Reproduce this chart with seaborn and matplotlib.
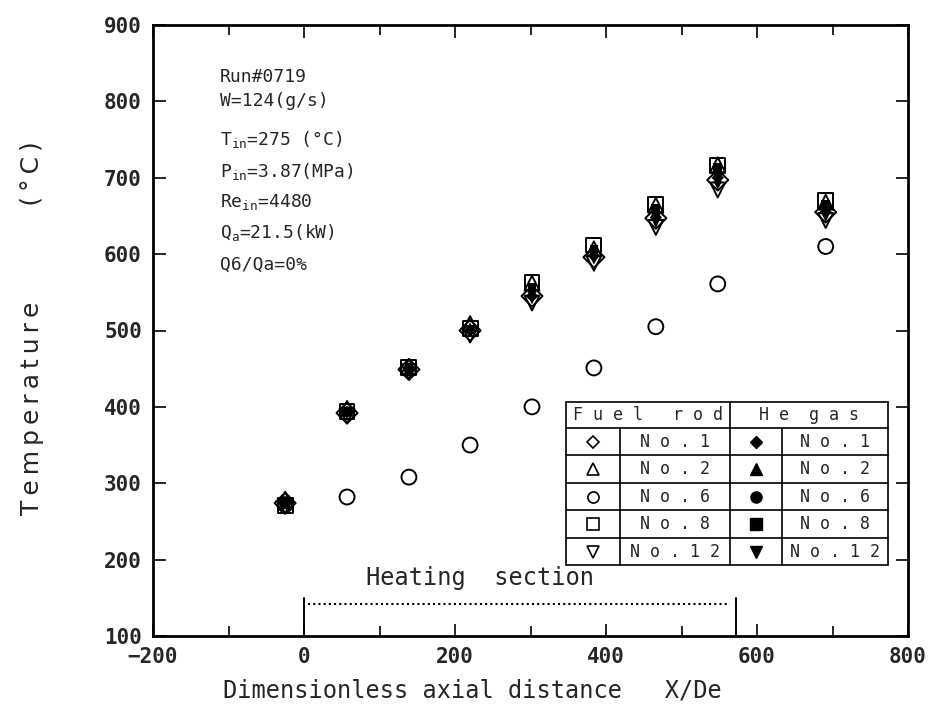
import numpy as np
import pandas as pd
import matplotlib
matplotlib.use("Agg")
import matplotlib.pyplot as plt
import seaborn as sns
from matplotlib.ticker import MultipleLocator
from matplotlib.patches import Rectangle

# ---------------- data ----------------
x_pos = [-25, 57, 139, 220, 302, 384, 466, 548, 691]
rods = ["No.1", "No.2", "No.6", "No.8", "No.12"]

fuel_no1 = [274, 392, 449, 500, 545, 596, 647, 697, 655]
fuel_no2 = [279, 398, 453, 509, 562, 607, 664, 717, 668]
fuel_no6 = [272, 282, 308, 350, 400, 451, 505, 561, 610]
fuel_no8 = [271, 394, 452, 503, 563, 612, 665, 716, 670]
fuel_no12 = [270, 388, 446, 494, 536, 588, 635, 684, 644]

gas_no1 = [274, 393, 450, 500, 545, 598, 648, 700, 655]
gas_no2 = [276, 396, 452, 505, 555, 604, 658, 712, 663]
gas_no6 = [273, 393, 450, 500, 545, 598, 650, 705, 658]
gas_no8 = [272, 394, 451, 502, 556, 606, 660, 713, 665]
gas_no12 = [271, 391, 448, 497, 540, 592, 640, 690, 648]

heat_start, heat_end = 0, 572

info_lines = ["Run#0719", "W=124(g/s)", r"T$_{\rm in}$=275 (°C)",
              r"P$_{\rm in}$=3.87(MPa)", r"Re$_{\rm in}$=4480",
              r"Q$_{\rm a}$=21.5(kW)", "Q6/Qa=0%"]

markers = {"No.1": "D", "No.2": "^", "No.6": "o", "No.8": "s", "No.12": "v"}

fuel = {"No.1": fuel_no1, "No.2": fuel_no2, "No.6": fuel_no6, "No.8": fuel_no8, "No.12": fuel_no12}
gas = {"No.1": gas_no1, "No.2": gas_no2, "No.6": gas_no6, "No.8": gas_no8, "No.12": gas_no12}

def long_df(d):
    rows = []
    for r in rods:
        for xv, tv in zip(x_pos, d[r]):
            rows.append({"x": xv, "T": tv, "rod": r})
    return pd.DataFrame(rows)

df_fuel = long_df(fuel)
df_gas = long_df(gas)

# ---------------- figure ----------------
sns.set_style("ticks")
plt.rcParams["font.family"] = ["DejaVu Sans"]
plt.rcParams["mathtext.fontset"] = "custom"
plt.rcParams["mathtext.rm"] = "DejaVu Sans Mono"
plt.rcParams["mathtext.it"] = "DejaVu Sans Mono"

fig = plt.figure(figsize=(9.38, 7.19), dpi=100)
ax = fig.add_axes([153 / 938, 1 - 636 / 719, 755 / 938, 611 / 719])

sns.scatterplot(data=df_gas, x="x", y="T", style="rod", markers=markers,
                style_order=rods, color="black", s=40, linewidth=0,
                legend=False, ax=ax, zorder=3)
sns.scatterplot(data=df_fuel, x="x", y="T", style="rod", markers=markers,
                style_order=rods, color="black", s=115, linewidth=1.4,
                legend=False, ax=ax, zorder=4)
ax.collections[-1].set_facecolor("none")
ax.collections[-1].set_edgecolor("black")

ax.set_xlim(-200, 800)
ax.set_ylim(100, 900)
ax.xaxis.set_major_locator(MultipleLocator(200))
ax.xaxis.set_minor_locator(MultipleLocator(100))
ax.yaxis.set_major_locator(MultipleLocator(100))
ax.tick_params(which="both", direction="in", top=True, right=True, width=1.4,
               labelsize=15)
ax.tick_params(which="major", length=9)
ax.tick_params(which="minor", length=7)
for lab in ax.get_xticklabels() + ax.get_yticklabels():
    lab.set_fontfamily("DejaVu Sans Mono")
    lab.set_fontweight("bold")
ax.tick_params(axis="x", pad=8)
ax.tick_params(axis="y", pad=8)
for sp in ax.spines.values():
    sp.set_linewidth(2)
    sp.set_color("black")

ax.set_xlabel("Dimensionless axial distance   X/De", fontsize=17,
              fontfamily="DejaVu Sans Mono")
ax.xaxis.set_label_coords((472 - 153) / 755, -(690 - 636) / 611)
ax.xaxis.label.set_va("center")
ax.set_ylabel("\u2009".join("Temperature") + "            (\u2009°\u2009C\u2009)",
              fontsize=18)
ax.yaxis.set_label_coords(-(153 - 32) / 755, (636 - 328) / 611)
ax.yaxis.label.set_va("center")

# heating section
ax.plot([heat_start, heat_start], [100, 150], color="black", lw=1.4)
ax.plot([heat_end, heat_end], [100, 150], color="black", lw=1.4)
ax.plot([heat_start + 5, heat_end - 8], [142, 142], color="black", lw=1.5,
        linestyle=(0, (1, 1.5)))
ax.text(233, 160, "Heating  section", fontsize=17,
        fontfamily="DejaVu Sans Mono", ha="center", va="bottom")

# run info text
info_y = [0.915, 0.876, 0.812, 0.761, 0.710, 0.660, 0.607]
for t, yy in zip(info_lines, info_y):
    ax.text(0.089, yy, t, transform=ax.transAxes, fontsize=13,
            fontfamily="DejaVu Sans Mono", va="center", ha="left")

# legend table
xs = [0.547, 0.619, 0.764, 0.833, 0.974]
ys = [0.383, 0.340, 0.296, 0.250, 0.206, 0.160, 0.116]
lw = 1.2
tr = ax.transAxes
for yy in ys:
    ax.plot([xs[0], xs[-1]], [yy, yy], transform=tr, color="black", lw=lw, zorder=5)
for xx in [xs[0], xs[2], xs[4]]:
    ax.plot([xx, xx], [ys[0], ys[-1]], transform=tr, color="black", lw=lw, zorder=5)
for xx in [xs[1], xs[3]]:
    ax.plot([xx, xx], [ys[1], ys[-1]], transform=tr, color="black", lw=lw, zorder=5)
ax.add_patch(Rectangle((xs[0], ys[-1]), xs[-1] - xs[0], ys[0] - ys[-1],
                       transform=tr, facecolor="white", edgecolor="none", zorder=4.5))
ax.text((xs[0] + xs[2]) / 2, (ys[0] + ys[1]) / 2, "F u e l   r o d", transform=tr,
        fontsize=12, fontfamily="DejaVu Sans Mono", ha="center", va="center", zorder=6)
ax.text((xs[2] + xs[4]) / 2, (ys[0] + ys[1]) / 2, "H e  g a s", transform=tr,
        fontsize=12, fontfamily="DejaVu Sans Mono", ha="center", va="center", zorder=6)
for i, r in enumerate(rods):
    yc = (ys[i + 1] + ys[i + 2]) / 2
    m = markers[r]
    ax.plot((xs[0] + xs[1]) / 2, yc, marker=m, markersize=8 if m != "D" else 6.5,
            markerfacecolor="white", markeredgecolor="black", markeredgewidth=1.2,
            transform=tr, zorder=6)
    ax.plot((xs[2] + xs[3]) / 2, yc, marker=m, markersize=8 if m != "D" else 6.5,
            markerfacecolor="black", markeredgecolor="black",
            transform=tr, zorder=6)
    lbl = " ".join(r)
    ax.text((xs[1] + xs[2]) / 2, yc, lbl, transform=tr, fontsize=12,
            fontfamily="DejaVu Sans Mono", ha="center", va="center", zorder=6)
    ax.text((xs[3] + xs[4]) / 2, yc, lbl, transform=tr, fontsize=12,
            fontfamily="DejaVu Sans Mono", ha="center", va="center", zorder=6)

fig.savefig("out.png", dpi=100, facecolor="white")
